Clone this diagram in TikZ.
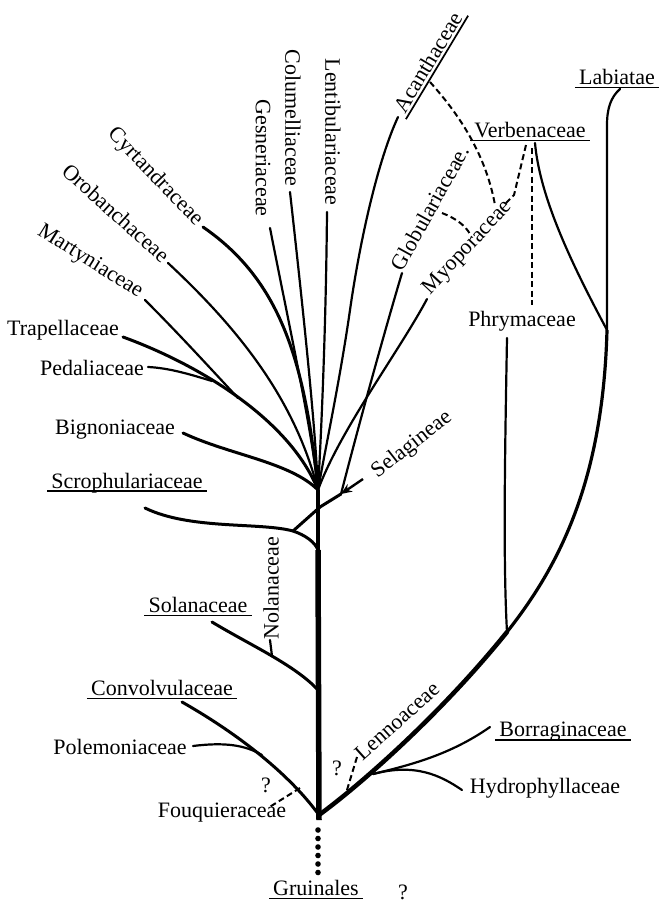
\documentclass[tikz,border=0pt]{standalone}
\usepackage{fontspec}
\setmainfont{Liberation Serif}
\usetikzlibrary{calc,arrows.meta}
\newcommand\ulab[1]{\draw[ulst] ($(#1.base west)!3pt!-90:(#1.base east)$) -- ($(#1.base east)!3pt!90:(#1.base west)$);}
\begin{document}
\begin{tikzpicture}[x=1pt,y=-1pt,
  lab/.style={font=\fontsize{22}{22}\selectfont, inner sep=1pt},
  br/.style={line width=2.2pt, line cap=round},
  thk/.style={line width=3pt, line cap=round},
  dsh/.style={line width=2pt, dash pattern=on 6pt off 3.5pt},
  ulst/.style={line width=1.7pt, shorten <=-3pt, shorten >=-3pt}]
\useasboundingbox (0,0) rectangle (660,906);

% ---- labels ----
\node[lab,rotate=-90] (lenti) at (333,132) {Lentibulariaceae};
\node[lab,rotate=-90] (colum) at (293,118) {Columelliaceae};
\node[lab,rotate=-90] (gesne) at (263,158) {Gesneriaceae};
\node[lab,rotate=-46] (cyrta) at (155,177) {Cyrtandraceae};
\node[lab,rotate=-42] (oroba) at (116,213) {Orobanchaceae};
\node[lab,rotate=-32] (marty) at (90,262) {Martyniaceae};
\node[lab] (trape) at (63,330) {Trapellaceae};
\node[lab] (pedal) at (92,368) {Pedaliaceae};
\node[lab] (bigno) at (115,430) {Bignoniaceae};
\node[lab] (scrop) at (127,483) {Scrophulariaceae};
\node[lab,rotate=90] (nolan) at (271,588) {Nolanaceae};
\node[lab] (solan) at (198,605) {Solanaceae};
\node[lab] (convo) at (162,688) {Convolvulaceae};
\node[lab] (polem) at (120,747) {Polemoniaceae};
\node[lab] (fouqu) at (222,813) {Fouquieraceae};
\node[lab] (gruin) at (316,888) {Gruinales};
\node[lab] (hydro) at (545,788) {Hydrophyllaceae};
\node[lab] (borra) at (563,732) {Borraginaceae};
\node[lab,rotate=42] (lenno) at (397,721) {Lennoaceae};
\node[lab] (phrym) at (522,321) {Phrymaceae};
\node[lab,rotate=38] (selag) at (412,445) {Selagineae};
\node[lab,rotate=47] (myopo) at (468,248) {Myoporaceae};
\node[lab,rotate=61] (globu) at (430,208) {Globulariaceae.};
\node[lab,rotate=59] (acant) at (428,62) {Acanthaceae};
\node[lab] (verbe) at (530,130) {Verbenaceae};
\node[lab] (labia) at (617,77) {Labiatae};
\node[lab] (q1) at (266,785) {?};
\node[lab] (q2) at (337,768) {?};
\node[lab] (q3) at (403,892) {?};

\ulab{scrop}\ulab{solan}\ulab{convo}\ulab{gruin}\ulab{borra}
\ulab{verbe}\ulab{labia}\ulab{acant}

% ---- junction / end coordinates ----
\coordinate (F) at (318,490);
\coordinate (J1) at (320,507);
\coordinate (J2) at (318,550);
\coordinate (J3) at (318,690);
\coordinate (B) at (319,815);
\coordinate (Bend) at (319,820);
\coordinate (R1) at (373,774);
\coordinate (R2) at (507,632);
\coordinate (R3) at (607,330);
\coordinate (R4) at (607,125);
\coordinate (labE) at (620,89);
\coordinate (verE) at (535,143);
\coordinate (verD1) at (532,148);
\coordinate (verD2) at (526,145);
\coordinate (phrE) at (507,338);
\coordinate (phrD) at (532,305);
\coordinate (myoE) at (427,299);
\coordinate (myoD) at (506,203);
\coordinate (acaE) at (398,117);
\coordinate (acaD) at (430,82);
\coordinate (acaD2) at (495,205);
\coordinate (gloE) at (402,273);
\coordinate (gloD) at (442,213);
\coordinate (myoD2) at (470,234);
\coordinate (sa) at (363,479);
\coordinate (sb) at (341,494);
\coordinate (lenE) at (327,212);
\coordinate (colE) at (290,192);
\coordinate (gesE) at (270,228);
\coordinate (cyrE) at (203,227);
\coordinate (oroE) at (168,263);
\coordinate (marE) at (145,300);
\coordinate (traE) at (123,337);
\coordinate (pedE) at (148,367);
\coordinate (TP) at (212,381);
\coordinate (TM) at (238,398);
\coordinate (bigE) at (183,433);
\coordinate (scrE) at (145,508);
\coordinate (NJ) at (293,531);
\coordinate (solE) at (212,622);
\coordinate (nolA) at (272,656);
\coordinate (nolB) at (270,640);
\coordinate (conE) at (182,702);
\coordinate (polE) at (193,746);
\coordinate (PC) at (262,755);
\coordinate (fouA) at (300,788);
\coordinate (fouB) at (268,808);
\coordinate (lenA) at (347,790);
\coordinate (lenB) at (357,757);
\coordinate (borE) at (490,727);
\coordinate (hydE) at (462,790);

% ---- trunk ----
\draw[line width=4pt] (F) -- (J2);
\draw[line width=5.5pt] (J2) -- (Bend);
\foreach \yy in {830,838.5,847,855.5,864,872.5} \fill (318,\yy) circle (2.8pt);

% ---- right main branch ----
\draw[line width=4.5pt, line cap=round] (B) .. controls (360,785) and (440,715) .. (R2);
\draw[line width=3.2pt] (R2) .. controls (560,565) and (603,480) .. (R3);
\draw[br] (R3) -- (R4) .. controls (607,108) and (611,97) .. (labE);
\draw[br] (verE) .. controls (540,200) and (575,270) .. (R3);
\draw[br] (phrE) .. controls (505,450) and (503,560) .. (R2);
\draw[br] (borE) .. controls (450,755) and (410,765) .. (R1);
\draw[br] (hydE) .. controls (440,775) and (415,763) .. (R1);
\draw[dsh] (lenA) -- (lenB);

% ---- dashed links ----
\draw[dsh] (verD1) -- (phrD);
\draw[dsh] (verD2) -- (514,195) -- (myoD);
\draw[dsh] (acaD) .. controls (455,110) and (485,150) .. (acaD2);
\draw[dsh] (gloD) .. controls (455,218) and (465,225) .. (myoD2);

% ---- fan branches ----
\draw[br] (acaE) .. controls (378,160) and (360,240) .. (350,310) .. controls (340,380) and (325,450) .. (F);
\draw[br] (gloE) .. controls (385,330) and (360,420) .. (sb);
\draw[br] (myoE) .. controls (400,350) and (340,430) .. (F);
\draw[br] (lenE) .. controls (326,320) and (322,420) .. (F);
\draw[br] (colE) .. controls (302,300) and (315,420) .. (F);
\draw[br] (gesE) .. controls (290,330) and (312,430) .. (F);
\draw[thk] (cyrE) .. controls (280,280) and (305,360) .. (F);
\draw[br] (oroE) .. controls (240,330) and (295,400) .. (F);
\draw[thk] (traE) .. controls (200,365) and (290,420) .. (F);
\draw[br] (marE) .. controls (180,335) and (210,368) .. (TM);
\draw[br] (pedE) .. controls (170,368) and (192,375) .. (TP);
\draw[thk] (bigE) .. controls (230,455) and (290,462) .. (F);

% ---- Selagineae ----
\draw[line width=2.4pt,-{Stealth[length=11pt,width=9pt]}] (sa) -- (sb);
\draw[thk] (sb) -- (J1);

% ---- lower left ----
\draw[thk] (scrE) .. controls (190,530) and (260,522) .. (NJ) .. controls (305,535) and (315,542) .. (J2);
\draw[thk] (NJ) -- (J1);
\draw[thk] (solE) .. controls (250,645) and (295,665) .. (J3);
\draw[br] (nolA) -- (nolB);
\draw[thk] (conE) .. controls (240,735) and (290,775) .. (B);
\draw[br] (polE) .. controls (225,742) and (245,745) .. (PC);
\draw[dsh] (fouA) -- (fouB);
\end{tikzpicture}
\end{document}
